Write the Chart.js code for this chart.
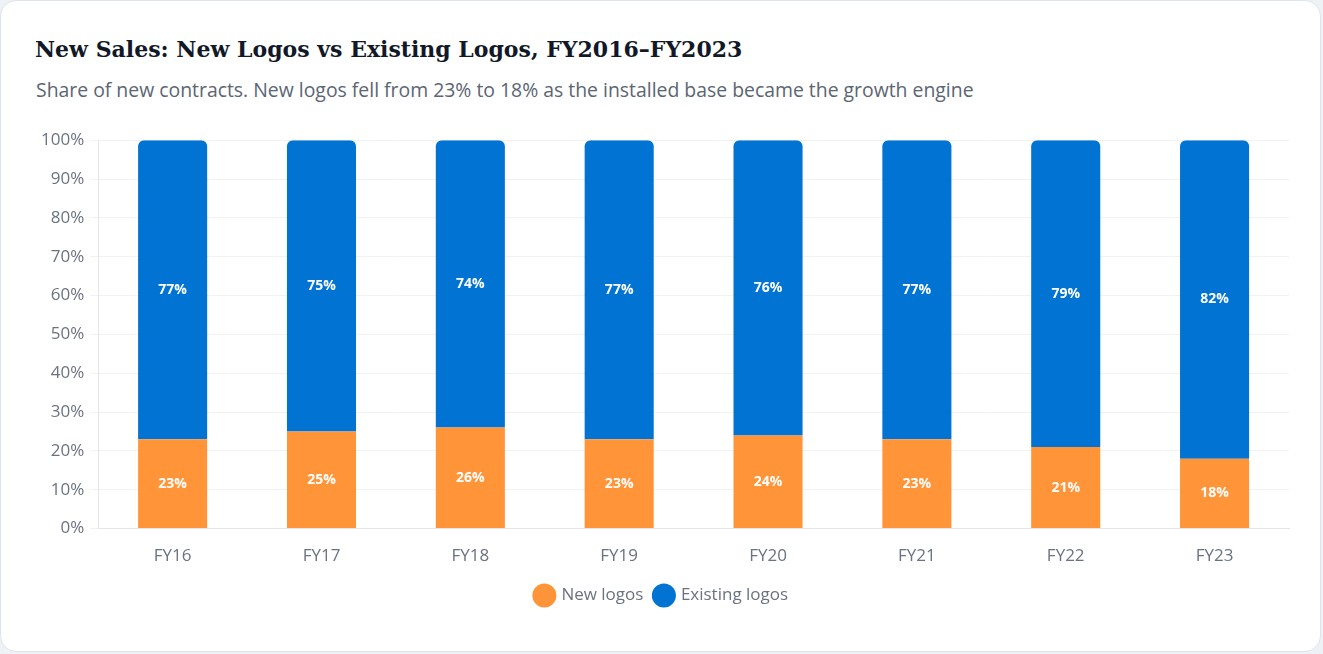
<!DOCTYPE html>
<html><head><meta charset="utf-8">
<script src="https://cdn.jsdelivr.net/npm/chart.js@4/dist/chart.umd.min.js"></script>
<style>
html,body{margin:0;padding:0;background:#eef2f6;width:1323px;height:654px;overflow:hidden;}
.card{position:absolute;left:0;top:0;width:1319px;height:650px;background:#fff;border:1px solid #dfe4ea;border-radius:16px;}
h1{position:absolute;left:34px;top:35px;margin:0;font-family:"DejaVu Serif","Liberation Serif",serif;font-weight:bold;font-size:22px;color:#111827;}
.sub{position:absolute;left:35px;top:75px;margin:0;font-family:"Open Sans",sans-serif;font-size:19.4px;color:#5b6573;}
.wrap{position:absolute;left:34px;top:123px;width:1264px;height:490px;}
</style></head><body>
<div class="card">
<h1>New Sales: New Logos vs Existing Logos, FY2016–FY2023</h1>
<p class="sub">Share of new contracts. New logos fell from 23% to 18% as the installed base became the growth engine</p>
<div class="wrap"><canvas id="c"></canvas></div>
</div>
<script>
const categories = ["FY16","FY17","FY18","FY19","FY20","FY21","FY22","FY23"];
const newLogos = [23,25,26,23,24,23,21,18];
const existingLogos = [77,75,74,77,76,77,79,82];
const seriesNames = ["New logos","Existing logos"];

const labelPlugin = {
  id:'segLabels',
  afterDatasetsDraw(chart){
    const ctx = chart.ctx;
    ctx.save();
    ctx.font = 'bold 14px "Open Sans", sans-serif';
    ctx.fillStyle = '#ffffff';
    ctx.textAlign = 'center';
    ctx.textBaseline = 'middle';
    chart.data.datasets.forEach((ds,i)=>{
      const meta = chart.getDatasetMeta(i);
      meta.data.forEach((bar,j)=>{
        const p = bar.getProps(['x','y','base'],true);
        ctx.fillText(ds.data[j]+'%', p.x, (p.y+p.base)/2);
      });
    });
    ctx.restore();
  }
};

new Chart(document.getElementById('c'),{
  type:'bar',
  data:{labels:categories,datasets:[
    {label:seriesNames[0],data:newLogos,backgroundColor:'#ff9538',borderWidth:0,barPercentage:0.464,categoryPercentage:1},
    {label:seriesNames[1],data:existingLogos,backgroundColor:'#0073d3',borderWidth:0,barPercentage:0.464,categoryPercentage:1,
     borderRadius:{topLeft:6,topRight:6,bottomLeft:0,bottomRight:0},borderSkipped:false}
  ]},
  options:{
    responsive:true,maintainAspectRatio:false,animation:false,
    layout:{padding:{left:0,right:10,top:8,bottom:0}},
    plugins:{
      legend:{position:'bottom',labels:{usePointStyle:true,pointStyle:'circle',boxWidth:25,boxHeight:25,padding:12,color:'#6b7280',font:{family:'"Open Sans", sans-serif',size:17}}},
      tooltip:{enabled:false}
    },
    scales:{
      x:{stacked:true,grid:{display:false},border:{color:'#e2e6ea'},ticks:{color:'#6b7280',padding:9,font:{family:'"Open Sans", sans-serif',size:17}}},
      y:{stacked:true,min:0,max:100,ticks:{stepSize:10,color:'#6b7280',padding:6,font:{family:'"Open Sans", sans-serif',size:17},callback:v=>v+'%'},
         grid:{color:'#f0f2f4'},border:{color:'#e2e6ea'}}
    }
  },
  plugins:[labelPlugin]
});
</script>
</body></html>
